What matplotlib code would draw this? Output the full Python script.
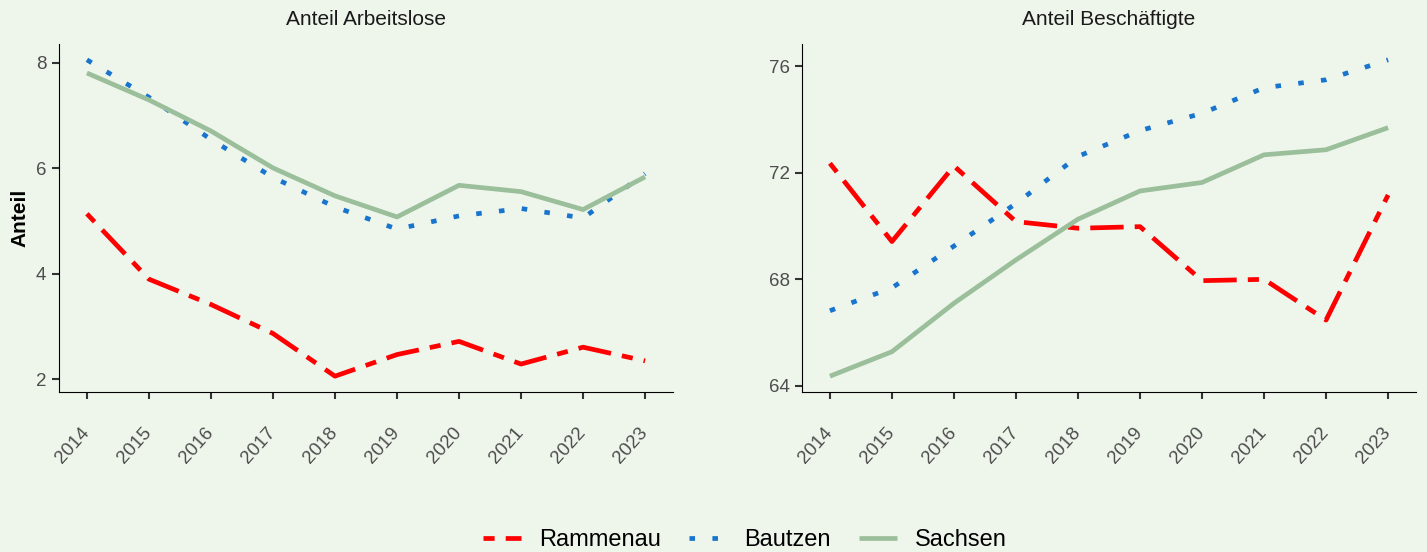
import numpy as np
import matplotlib
matplotlib.use("Agg")
import matplotlib.pyplot as plt

years = [2014, 2015, 2016, 2017, 2018, 2019, 2020, 2021, 2022, 2023]

# Anteil Arbeitslose
alo_rammenau = [5.14, 3.90, 3.42, 2.87, 2.06, 2.47, 2.72, 2.29, 2.61, 2.35]
alo_bautzen = [8.06, 7.35, 6.55, 5.83, 5.27, 4.85, 5.10, 5.24, 5.06, 5.90]
alo_sachsen = [7.81, 7.30, 6.71, 6.01, 5.48, 5.08, 5.68, 5.56, 5.22, 5.84]

# Anteil Beschaeftigte
bes_rammenau = [72.36, 69.42, 72.26, 70.17, 69.92, 69.98, 67.95, 68.00, 66.47, 71.17]
bes_bautzen = [66.82, 67.68, 69.25, 70.85, 72.62, 73.59, 74.24, 75.20, 75.50, 76.25]
bes_sachsen = [64.36, 65.28, 67.10, 68.73, 70.26, 71.32, 71.64, 72.68, 72.87, 73.70]

titles = ["Anteil Arbeitslose", "Anteil Beschäftigte"]
series_names = ["Rammenau", "Bautzen", "Sachsen"]
yticks_left = [2, 4, 6, 8]
yticks_right = [64, 68, 72, 76]

bg = "#EEF6EC"
colors = ["#FF0000", "#1874CD", "#9BBF9A"]
dash_styles = [(0, (8, 8, 24, 8)), (0, (4, 12.5)), "solid"]

plt.rcParams["font.family"] = ["Liberation Sans", "DejaVu Sans"]
plt.rcParams["lines.scale_dashes"] = False

fig = plt.figure(figsize=(14.27, 5.52), dpi=100, facecolor=bg)
W, H = 1427.0, 552.0
ax1 = fig.add_axes([59 / W, 1 - 392 / H, 614 / W, 348 / H])
ax2 = fig.add_axes([802 / W, 1 - 392 / H, 614 / W, 348 / H])

data = [
    [alo_rammenau, alo_bautzen, alo_sachsen],
    [bes_rammenau, bes_bautzen, bes_sachsen],
]

handles = []
for ax, title, rows, yt in zip([ax1, ax2], titles, data, [yticks_left, yticks_right]):
    ax.set_facecolor(bg)
    for name, vals, c, ls in zip(series_names, rows, colors, dash_styles):
        ln, = ax.plot(years, vals, color=c, linestyle=ls, linewidth=3.4,
                      dash_capstyle="butt", solid_capstyle="butt", label=name)
        if ax is ax1:
            handles.append(ln)
    allv = np.concatenate([np.array(r) for r in rows])
    lo, hi = allv.min(), allv.max()
    pad = (hi - lo) * 0.05
    ax.set_ylim(lo - pad, hi + pad)
    ax.set_xlim(years[0] - 0.45, years[-1] + 0.45)
    ax.set_xticks(years)
    ax.set_xticklabels([str(y) for y in years], rotation=48, ha="right",
                       va="center", rotation_mode="anchor")
    ax.set_yticks(yt)
    ax.spines["top"].set_visible(False)
    ax.spines["right"].set_visible(False)
    ax.spines["left"].set_linewidth(0.8)
    ax.spines["bottom"].set_linewidth(0.8)
    ax.tick_params(axis="both", length=5, width=1.5, color="#333333",
                   labelcolor="#4D4D4D", labelsize=13.5)
    ax.tick_params(axis="x", pad=22)
    ax.tick_params(axis="y", pad=4)
    ax.set_title(title, fontsize=15, pad=14, color="#1A1A1A")

ax1.set_ylabel("Anteil", fontsize=15, fontweight="bold", labelpad=5)

fig.legend(handles, series_names, loc="center", bbox_to_anchor=(745 / W, 1 - 540 / H),
           ncol=3, frameon=False, fontsize=17, handlelength=1.6,
           handletextpad=0.75, columnspacing=1.2, borderpad=0.2)

fig.savefig("out.png", dpi=100, facecolor=bg)
